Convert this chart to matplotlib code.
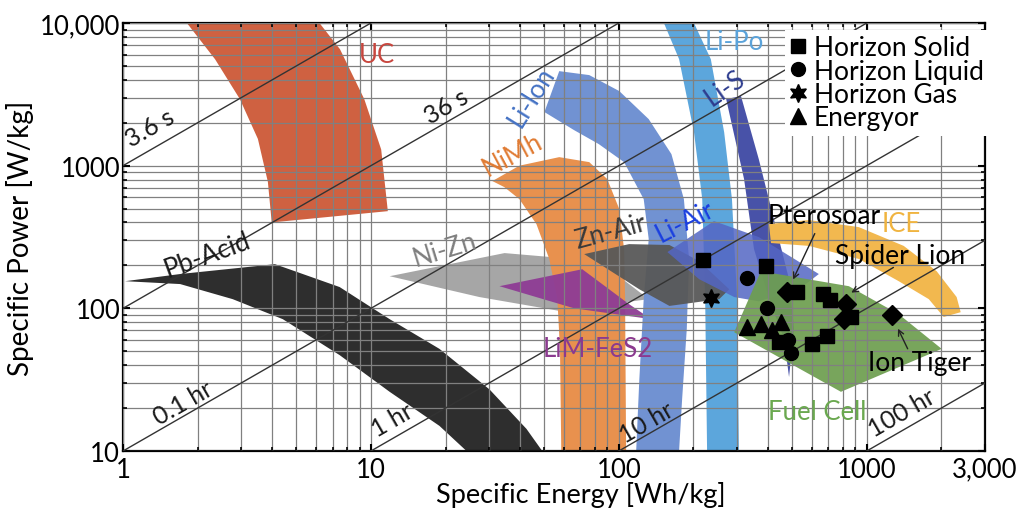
import matplotlib.pyplot as plt
from matplotlib.lines import Line2D
import numpy as np

plt.rcParams['font.family'] = ['Lato', 'DejaVu Sans']

# --- technology regions, (specific energy Wh/kg, specific power W/kg) ---
uc_E = [1.81, 2.35, 2.96, 3.5, 3.84, 3.98, 11.7, 11.0, 9.4, 7.5, 6.2]
uc_P = [10000, 5580, 2930, 1540, 770, 400, 480, 1300, 2930, 6560, 10000]

pb_E = [1.02, 1.70, 4.10, 7.48, 11.9, 18.9, 30.1, 42.4, 49.1, 24.3, 18.9, 11.9, 7.48, 4.41, 2.77, 1.70]
pb_P = [155, 174, 204, 141, 84, 52, 27, 14.3, 10, 10, 15, 26, 47, 84, 116, 148]

nizn_E = [11.9, 34.6, 83.4, 132, 57.5, 27.4]
nizn_P = [168, 244, 214, 116, 96, 120]

nimh_E = [30.9, 39.7, 57.5, 76, 89.8, 100.4, 105, 106, 107, 58.6, 57.9, 56.5, 52.4, 46.5, 39.7, 34.5]
nimh_P = [780, 1000, 1148, 1059, 806, 497, 260, 116, 10, 10, 52, 116, 222, 390, 583, 708]

limfes_E = [33.0, 71.2, 110, 135, 66.1]
limfes_P = [143, 188, 107, 84, 100]

liion_E = [57.5, 76, 100.4, 132, 163, 183, 192, 188, 180, 175,
           117.5, 121, 126, 132, 126, 105, 83, 66, 50.1]
liion_P = [4600, 4315, 3335, 2120, 1205, 583, 222, 72, 23, 10,
           10, 32, 116, 306, 583, 1059, 1417, 1775, 2377]

lipo_E = [152, 175, 201, 217, 223, 227, 305, 300, 286, 266, 235, 201]
lipo_P = [10000, 5580, 1718, 583, 116, 10, 10, 116, 583, 1718, 5580, 10000]

lis_E = [271, 320, 351, 404, 464, 486, 509, 486, 422, 367, 311]
lis_P = [2930, 806, 260, 116, 61, 33, 72, 160, 423, 1110, 3077]

znair_E = [72.5, 110, 160, 211, 279, 254, 160, 121]
znair_P = [240, 282, 278, 214, 136, 116, 104, 136]

liair_E = [157, 242, 367, 641, 533, 367, 292, 211]
liair_P = [248, 409, 316, 174, 136, 112, 120, 160]

fc_E = [292, 374, 847, 1346, 2006, 787]
fc_P = [68, 182, 143, 91, 52, 26]

ice_E = [403, 585, 929, 1410, 1915, 2305, 2393, 2044, 1780, 1346, 929, 585, 411]
ice_P = [390, 416, 371, 274, 182, 120, 94, 87, 116, 155, 222, 274, 287]

# --- vehicle data points ---
solid_E = [219, 392, 523, 666, 710, 863, 690, 601, 442]
solid_P = [218, 198, 130, 126, 114, 87, 64, 56, 58]
liquid_E = [329, 396, 481, 495]
liquid_P = [163, 100, 60, 49]
gas_E = [235]
gas_P = [118]
energyor_E = [329, 374, 451, 415]
energyor_P = [74, 78, 80, 70]
named_E = [477, 824, 809, 1262]
named_P = [130, 107, 84, 90]

# constant discharge time lines (hours)
durations = [0.001, 0.01, 0.1, 1, 10, 100]
duration_labels = ['3.6 s', '36 s', '0.1 hr', '1 hr', '10 hr', '100 hr']
duration_label_E = [1.28, 20.2, 1.74, 12.2, 129, 1384]
duration_label_P = [1862, 2620, 22, 16.5, 16.0, 18.8]

fig = plt.figure(figsize=(10.2, 5.1), dpi=100)
ax = fig.add_axes([0.1206, 0.1137, 0.8451, 0.8392])
ax.set_xscale('log')
ax.set_yscale('log')
ax.set_xlim(1, 3000)
ax.set_ylim(10, 10000)

regions = [
    (uc_E, uc_P, '#CF6141', 1.0),
    (pb_E, pb_P, '#2E2E2E', 1.0),
    (nizn_E, nizn_P, '#A6A6A6', 1.0),
    (nimh_E, nimh_P, '#E8914E', 1.0),
    (limfes_E, limfes_P, '#8E3C95', 0.95),
    (liion_E, liion_P, '#7192D2', 1.0),
    (lipo_E, lipo_P, '#5CA6DC', 1.0),
    (lis_E, lis_P, '#4852A8', 1.0),
    (znair_E, znair_P, '#585858', 0.95),
    (liair_E, liair_P, '#5466C4', 0.85),
    (fc_E, fc_P, '#6E9E50', 0.93),
    (ice_E, ice_P, '#F2B84F', 1.0),
]
for i, (e, p, c, a) in enumerate(regions):
    ax.fill(e, p, color=c, alpha=a, lw=0, zorder=1 + i * 0.01)

ax.grid(which='both', color='#808080', lw=0.9)
ax.set_axisbelow(False)

# discharge time lines
E_line = np.array([1, 3000])
for t in durations:
    ax.plot(E_line, E_line / t, color='#333333', lw=1.0, zorder=3)

ang_pts = ax.transData.transform([(1, 10), (1000, 10000)])
line_angle = np.degrees(np.arctan2(ang_pts[1, 1] - ang_pts[0, 1], ang_pts[1, 0] - ang_pts[0, 0]))
for lab, e, p in zip(duration_labels, duration_label_E, duration_label_P):
    ax.text(e, p, lab, rotation=line_angle, ha='center', va='center',
            fontsize=18, color='#1a1a1a', zorder=5, rotation_mode='anchor')

# region labels
region_labels = ['UC', 'Li-Ion', 'NiMh', 'Li-Po', 'Li-S', 'Li-Air', 'Zn-Air', 'Ni-Zn',
                 'Pb-Acid', 'LiM-FeS2', 'ICE', 'Fuel Cell']
region_label_E = [10.6, 44.4, 37.2, 292, 268, 185, 92.3, 19.8, 2.18, 81.9, 1372, 630]
region_label_P = [6055, 3077, 1205, 7460, 3556, 409, 348, 260, 237, 52, 396, 18.8]
region_label_rot = [0, 58, 28, 0, 35, 27, 15, 17, 20, 0, 0, 0]
region_label_col = ['#C8463E', '#4472C4', '#E07B33', '#5BA3DA', '#2E3D8F', '#1A3FE0',
                    '#3A3A3A', '#7F7F7F', '#1a1a1a', '#8B3A8F', '#F0B440', '#6AA84F']
for lab, e, p, r, c in zip(region_labels, region_label_E, region_label_P,
                           region_label_rot, region_label_col):
    ax.text(e, p, lab, rotation=r, ha='center', va='center', fontsize=18.5,
            color=c, zorder=5, rotation_mode='anchor')

# vehicle markers
mk = dict(color='black', ls='none', zorder=4)
ax.plot(solid_E, solid_P, marker='s', ms=10, **mk)
ax.plot(liquid_E, liquid_P, marker='o', ms=10, **mk)
ax.plot(gas_E, gas_P, marker=(6, 1, 0), ms=13, **mk)
ax.plot(energyor_E, energyor_P, marker='^', ms=11, **mk)
ax.plot(named_E, named_P, marker='D', ms=10, **mk)

# named aircraft annotations
ann_labels = ['Pterosoar', 'Spider Lion', 'Ion Tiger']
ann_text_E = [671, 1359, 1636]
ann_text_P = [444, 233, 42]
ann_tail_E = [624, 1310, 1479]
ann_tail_P = [348, 198, 50]
ann_head_E = [499, 847, 1322]
ann_head_P = [153, 126, 75]
for lab, te, tp, se, sp, he, hp in zip(ann_labels, ann_text_E, ann_text_P, ann_tail_E,
                                       ann_tail_P, ann_head_E, ann_head_P):
    ax.text(te, tp, lab, ha='center', va='center', fontsize=19, color='black', zorder=5)
    ax.annotate('', xy=(he, hp), xytext=(se, sp), zorder=5,
                arrowprops=dict(arrowstyle='->', color='#222222', lw=1.0, mutation_scale=10))

# axes styling
x_ticks = [1, 10, 100, 1000, 3000]
x_ticklabels = ['1', '10', '100', '1000', '3,000']
y_ticks = [10, 100, 1000, 10000]
y_ticklabels = ['10', '100', '1000', '10,000']
ax.set_xticks(x_ticks)
ax.set_xticklabels(x_ticklabels)
ax.set_yticks(y_ticks)
ax.set_yticklabels(y_ticklabels)
ax.tick_params(which='both', direction='in', top=True, right=True, labelsize=18.5,
               colors='black')
ax.tick_params(which='major', length=5, width=1.5, pad=2)
ax.tick_params(axis='x', which='major', pad=4)
ax.tick_params(which='minor', length=3, width=1.2)
for s in ax.spines.values():
    s.set_linewidth(1.6)
    s.set_color('black')
ax.set_xlabel('Specific Energy [Wh/kg]', fontsize=19.5)
ax.xaxis.set_label_coords(0.531, -0.07)
ax.set_ylabel('Specific Power [W/kg]', fontsize=20, labelpad=4)

handles = [
    Line2D([], [], marker='s', color='black', ls='none', ms=10),
    Line2D([], [], marker='o', color='black', ls='none', ms=10),
    Line2D([], [], marker=(6, 1, 0), color='black', ls='none', ms=13),
    Line2D([], [], marker='^', color='black', ls='none', ms=11),
]
leg = ax.legend(handles, ['Horizon Solid', 'Horizon Liquid', 'Horizon Gas', 'Energyor'],
                loc='upper right', bbox_to_anchor=(1.008, 0.99), fontsize=19, frameon=True,
                handlelength=0.6, handletextpad=0.3, labelspacing=-0.06, borderpad=0.2,
                borderaxespad=0.1, fancybox=False)
leg.get_frame().set_edgecolor('none')
leg.get_frame().set_facecolor('white')
leg.get_frame().set_alpha(1.0)
leg.set_zorder(6)

fig.savefig('out.png', dpi=100)
